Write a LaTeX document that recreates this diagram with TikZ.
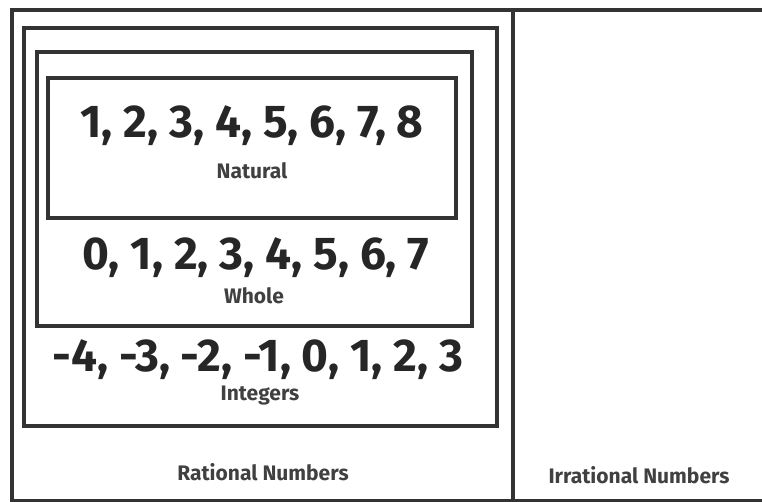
\documentclass[tikz,border=0pt]{standalone}
\usepackage{fontspec}
\setmainfont{Fira Sans}
\usepackage{tikz}

\tikzset{
  setbox/.style={line width=2.2pt, draw=black!80},
  hand/.style={font=\fontsize{23}{25}\selectfont\bfseries, text=black!85},
  setlabel/.style={font=\fontsize{10.5}{12}\selectfont\bfseries, text=black!75}
}

\begin{document}
\begin{tikzpicture}[x=0.5pt, y=-0.5pt]
\useasboundingbox (0,0) rectangle (762,502);
% outer frame and divider
\draw[line width=1.6pt, draw=black!80] (762,10) -- (12,10) -- (12,501) -- (762,501);
\draw[line width=1.6pt, draw=black!80] (513,10) -- (513,501);
% nested sets
\draw[setbox] (24,28) rectangle (497,426);
\draw[setbox] (37,52) rectangle (472,326);
\draw[setbox] (48,78) rectangle (456,218);

\node[hand] (natnums) at (252,126) {1, 2, 3, 4, 5, 6, 7, 8};
\node[setlabel] (natural) at (252,171) {Natural};
\node[hand] (wholenums) at (256,258) {0, 1, 2, 3, 4, 5, 6, 7};
\node[setlabel] (whole) at (254,296) {Whole};
\node[hand] (intnums) at (258,360) {-4, -3, -2, -1, 0, 1, 2, 3};
\node[setlabel] (integers) at (260,396) {Integers};
\node[setlabel] (rational) at (263,472) {Rational Numbers};
\node[setlabel] (irrational) at (639,475) {Irrational Numbers};
\end{tikzpicture}
\end{document}
